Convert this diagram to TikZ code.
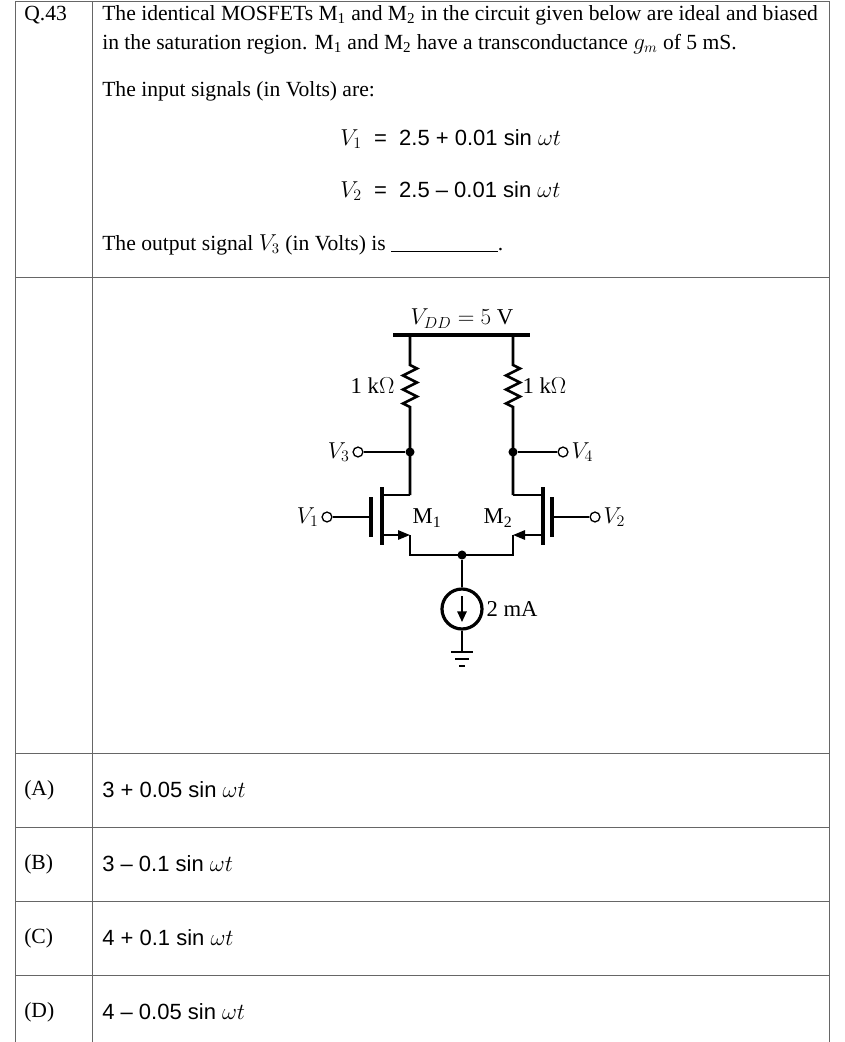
\documentclass[tikz,border=0pt]{standalone}
\usepackage{fontspec}
\setmainfont{Liberation Serif}[Ligatures=TeX]
\newfontfamily\optfont{Liberation Sans}[Ligatures=TeX]
\usetikzlibrary{arrows.meta, positioning}
\tikzset{
    grid/.style={draw=black!60, line width=0.6pt},
    wire/.style={line width=1.4pt},
    term/.style={circle, draw, line width=1pt, fill=white, inner sep=2.6pt},
    dot/.style={circle, fill, inner sep=2.4pt},
    txt/.style={anchor=west, font=\fontsize{16.2}{18}\selectfont, inner sep=0pt},
    opt/.style={anchor=west, font=\fontsize{16.5}{18}\selectfont\optfont, inner sep=0pt},
    lbl/.style={font=\fontsize{17}{19}\selectfont, inner sep=1pt}
}
\begin{document}
\begin{tikzpicture}[x=0.75pt, y=-0.75pt]
    \useasboundingbox (0,0) rectangle (845,1042);
    % table lines
    \draw[grid] (15,1) -- (829,1);
    \foreach \y in {277,753,827,901,975} \draw[grid] (15,\y) -- (829,\y);
    \foreach \x in {15,92,829} \draw[grid] (\x,1) -- (\x,1042);

    % question text
    \node[txt] (qno) at (24,15) {Q.43};
    \node[txt] (q1) at (102,15) {The identical MOSFETs M\textsubscript{1} and M\textsubscript{2} in the circuit given below are ideal and biased};
    \node[txt] (q2) at (102,44) {in the saturation region. M\textsubscript{1} and M\textsubscript{2} have a transconductance $g_m$ of 5 mS.};
    \node[txt] (q3) at (102,91) {The input signals (in Volts) are:};
    \node[opt] (e1) at (340,139) {$V_1$ \;=\; 2.5 + 0.01 sin $\omega t$};
    \node[opt] (e2) at (340,191) {$V_2$ \;=\; 2.5 -- 0.01 sin $\omega t$};
    \node[txt] (q4) at (102,245) {The output signal $V_3$ (in Volts) is \rule[-1pt]{80pt}{0.5pt}.};

    % options
    \foreach \y/\l/\v in {790/A/3 + 0.05 sin $\omega t$, 864/B/3 -- 0.1 sin $\omega t$,
                          938/C/4 + 0.1 sin $\omega t$, 1012/D/4 -- 0.05 sin $\omega t$} {
        \node[txt] at (24,\y) {(\l)};
        \node[opt] at (102,\y) {\v};
    }

    % circuit
    \coordinate (vddL) at (393,335);
    \coordinate (vddR) at (530,335);
    \draw[line width=3pt] (vddL) -- (vddR);
    \node[lbl, above] (vdd) at (462,330) {$V_{DD} = 5$ V};
    % resistors
    \foreach \x in {410,513} {
        \draw[wire, line width=2pt] (\x,335) -- (\x,365)
            -- ++(7,3.5) -- ++(-14,7) -- ++(14,7) -- ++(-14,7) -- ++(14,7) -- ++(-14,7) -- ++(7,3.5)
            -- (\x,495);
    }
    \node[lbl, anchor=east] (r1) at (396,386) {1 k$\Omega$};
    \node[lbl, anchor=west] (r2) at (521,386) {1 k$\Omega$};
    % outputs
    \node[dot] (d1) at (410,452) {};
    \node[dot] (d2) at (513,452) {};
    \node[term] (v3) at (358,452) {};
    \node[term] (v4) at (563,452) {};
    \draw[wire] (v3) -- (d1);
    \draw[wire] (d2) -- (v4);
    \node[lbl, left=1pt of v3] (v3l) {$V_3$};
    \node[lbl, right=1pt of v4] (v4l) {$V_4$};
    % M1
    \draw[wire] (410,495) -- (382,495);
    \draw[line width=2.4pt] (382,487) -- (382,545);
    \draw[line width=2.4pt] (371,497) -- (371,537);
    \draw[wire, -{Triangle[length=9pt,width=7pt]}] (382,535) -- (410,535);
    \draw[wire] (410,535) -- (410,555) -- (513,555) -- (513,535);
    \node[term] (v1) at (327,517) {};
    \draw[wire] (v1) -- (371,517);
    \node[lbl, left=1pt of v1] (v1l) {$V_1$};
    \node[lbl] (m1) at (427,518) {M\textsubscript{1}};
    % M2
    \draw[wire] (513,495) -- (543,495);
    \draw[line width=2.4pt] (543,487) -- (543,545);
    \draw[line width=2.4pt] (552,497) -- (552,537);
    \draw[wire, -{Triangle[length=9pt,width=7pt]}] (543,535) -- (513,535);
    \node[term] (v2) at (595,517) {};
    \draw[wire] (v2) -- (552,517);
    \node[lbl, right=1pt of v2] (v2l) {$V_2$};
    \node[lbl] (m2) at (498,518) {M\textsubscript{2}};
    % tail
    \node[dot] (tail) at (462,555) {};
    \node[circle, draw, line width=2.4pt, minimum size=30pt, inner sep=0pt] (src) at (462,609) {};
    \draw[wire] (tail) -- (src);
    \draw[wire, -{Triangle[length=8pt,width=7pt]}] (462,596) -- (462,622);
    \node[lbl, right=1pt of src] (srcl) {2 mA};
    \coordinate (gnd) at (462,652);
    \draw[wire] (src) -- (gnd);
    \draw[line width=1.6pt] (451,652) -- (473,652);
    \draw[line width=1.6pt] (455,659) -- (469,659);
    \draw[line width=1.6pt] (459,666) -- (465,666);
\end{tikzpicture}
\end{document}
